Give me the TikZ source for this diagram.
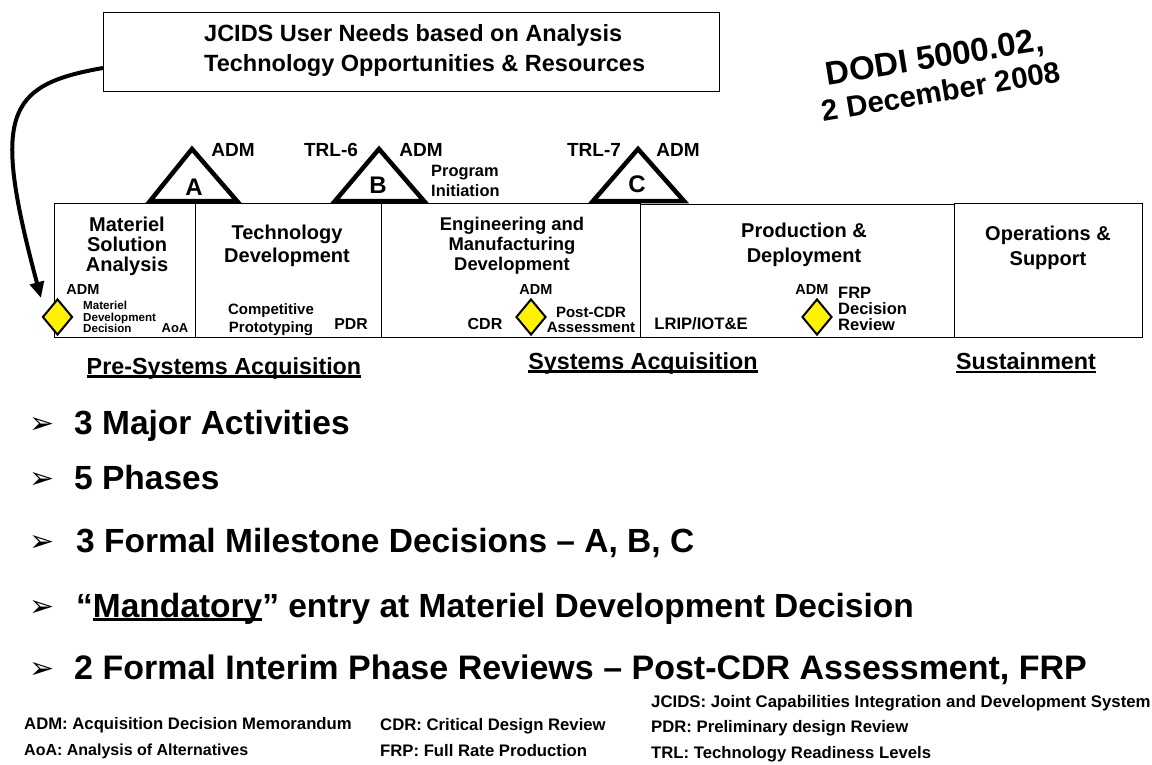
\documentclass[tikz,border=0pt]{standalone}
\usepackage{fontspec}
\setmainfont{Liberation Sans}[BoldFont={Liberation Sans Bold}]
\newfontfamily\bulfont{DejaVu Sans}
\usetikzlibrary{arrows.meta,shapes.geometric}
\newcommand{\thickul}[1]{\setbox0\hbox{#1}\rlap{\rule[-3.6pt]{\wd0}{2.2pt}}\box0 }
\tikzset{
  lbl/.style={font=\bfseries\fontsize{#1}{#1}\selectfont,inner sep=0pt,align=center,text=black},
  ml/.style 2 args={font=\bfseries\fontsize{#1}{#2}\selectfont,inner sep=0pt,align=center,text=black},
  lft/.style={font=\bfseries\fontsize{#1}{#1}\selectfont,inner sep=0pt,anchor=base west,text=black},
  phase/.style={draw=black,line width=1.4pt,fill=white,minimum height=134pt,inner sep=0pt,anchor=north west},
  tri/.style={draw=black,line width=4.5pt,line join=miter},
  dec/.style={draw=black,line width=2pt,fill=yellow,diamond,aspect=0.83,minimum width=30pt,minimum height=36pt,inner sep=0pt},
  bul/.style={font=\bulfont\fontsize{30}{30}\selectfont,inner sep=0pt,anchor=base west},
}
\begin{document}
\begin{tikzpicture}[x=1pt,y=-1pt]
\useasboundingbox (0,0) rectangle (1152,764);
% phases
\node[phase,minimum width=141pt] (msa) at (54,203) {};
\node[phase,minimum width=186pt] (td) at (195,203) {};
\node[phase,minimum width=259pt] (emd) at (381,203) {};
\node[phase,minimum width=314pt,minimum height=133pt] (pd) at (640,204) {};
\node[phase,minimum width=188pt] (os) at (954,203) {};
% triangles
\draw[tri] (192,149) -- (150,201) -- (237,201) -- cycle;
\draw[tri] (379,149) -- (335,201) -- (424,201) -- cycle;
\draw[tri] (638,149) -- (593,201) -- (684,201) -- cycle;
\node[lbl=24] (ta) at (194,187) {A};
\node[lbl=24] (tb) at (378,185) {B};
\node[lbl=24] (tc) at (637,184) {C};
\node[lbl=19] (adma) at (233,150) {ADM};
\node[lbl=19] (trl6) at (331,150) {TRL-6};
\node[lbl=19] (admb) at (421,150) {ADM};
\node[lbl=19] (trl7) at (594,150) {TRL-7};
\node[lbl=19] (admc) at (678,150) {ADM};
\node[ml={16.4}{20},align=left,anchor=north west] (pi) at (431,165) {Program\\Initiation};
% phase titles
\node[ml={20}{20}] (t1) at (127,246) {Materiel\\Solution\\Analysis};
\node[ml={20}{23.5}] (t2) at (287,246) {Technology\\Development};
\node[ml={18.4}{20}] (t3) at (512,246) {Engineering and\\Manufacturing\\Development};
\node[ml={20}{25}] (t4) at (804,245) {Production \&\\Deployment};
\node[ml={20}{24.5}] (t5) at (1048,248) {Operations \&\\Support};
% decisions
\node[dec] (d1) at (57.5,317) {};
\node[dec] (d2) at (531,317) {};
\node[dec] (d3) at (817,317) {};
\node[lbl=14.5] (a1) at (83,290) {ADM};
\node[lbl=14.5] (a2) at (536,290) {ADM};
\node[lbl=14.5] (a3) at (812,290) {ADM};
\node[ml={11.6}{11.5},align=left,anchor=north west] (mdd) at (83,301) {Materiel\\Development\\Decision};
\node[lbl=13] (aoa) at (175,328) {AoA};
\node[ml={15}{18}] (cp) at (271,320) {Competitive\\Prototyping};
\node[lbl=15.8] (pdr) at (351,324) {PDR};
\node[lbl=16] (cdr) at (485,324) {CDR};
\node[ml={15}{15}] (pca) at (591,320) {Post-CDR\\Assessment};
\node[lbl=16.6] (lrip) at (701,324) {LRIP/IOT\&E};
\node[ml={16.5}{16},align=left,anchor=north west] (frp) at (838,287) {FRP\\Decision\\Review};
% top box
\node[draw=black,line width=1.4pt,fill=white,minimum width=616pt,minimum height=79pt,inner sep=0pt,anchor=north west] (box) at (103,12) {};
\node[ml={23.5}{30},align=left,anchor=north west] (boxt) at (204,24.5) {JCIDS User Needs based on Analysis\\Technology Opportunities \& Resources};
\coordinate (tip) at (41,298);
\draw[line width=4pt,-{Triangle[length=16pt,width=14pt]}] (box.west |- 0,68) .. controls (5,85) and (-8,115) .. (tip);
% DODI
\node[lbl=33,rotate=9] (dodi) at (935,59) {DODI 5000.02,};
\node[lbl=29.5,rotate=9.5] (dodi2) at (941,91) {2 December 2008};
% section headings
\node[lbl=23.3] (h1) at (224,368) {\thickul{Pre-Systems Acquisition}};
\node[lbl=23.3] (h2) at (643,363) {\thickul{Systems Acquisition}};
\node[lbl=23.3] (h3) at (1026,363) {\thickul{Sustainment}};
% bullets
\node[bul] (b1) at (29,433) {➢};
\node[lbl=33.5,anchor=base west] (l1) at (74,434) {3 Major Activities};
\node[bul] (b2) at (29,488) {➢};
\node[lbl=33.5,anchor=base west] (l2) at (74,489) {5 Phases};
\node[bul] (b3) at (29,551) {➢};
\node[lbl=33.5,anchor=base west] (l3) at (76,552) {3 Formal Milestone Decisions – A, B, C};
\node[bul] (b4) at (29,616) {➢};
\node[lbl=33.5,anchor=base west] (l4) at (76,617) {“\thickul{Mandatory}” entry at Materiel Development Decision};
\node[bul] (b5) at (29,678) {➢};
\node[lbl=34,anchor=base west] (l5) at (74,679) {2 Formal Interim Phase Reviews – Post-CDR Assessment, FRP};
% legend
\node[lft=16.7] (k1) at (24,729) {ADM: Acquisition Decision Memorandum};
\node[lft=16] (k2) at (24,755) {AoA: Analysis of Alternatives};
\node[lft=16.7] (k3) at (380,730) {CDR: Critical Design Review};
\node[lft=16.7] (k4) at (380,756) {FRP: Full Rate Production};
\node[lft=16.8] (k5) at (651,707) {JCIDS: Joint Capabilities Integration and Development System};
\node[lft=16.7] (k6) at (651,732) {PDR: Preliminary design Review};
\node[lft=16.7] (k7) at (651,758) {TRL: Technology Readiness Levels};
\end{tikzpicture}
\end{document}
